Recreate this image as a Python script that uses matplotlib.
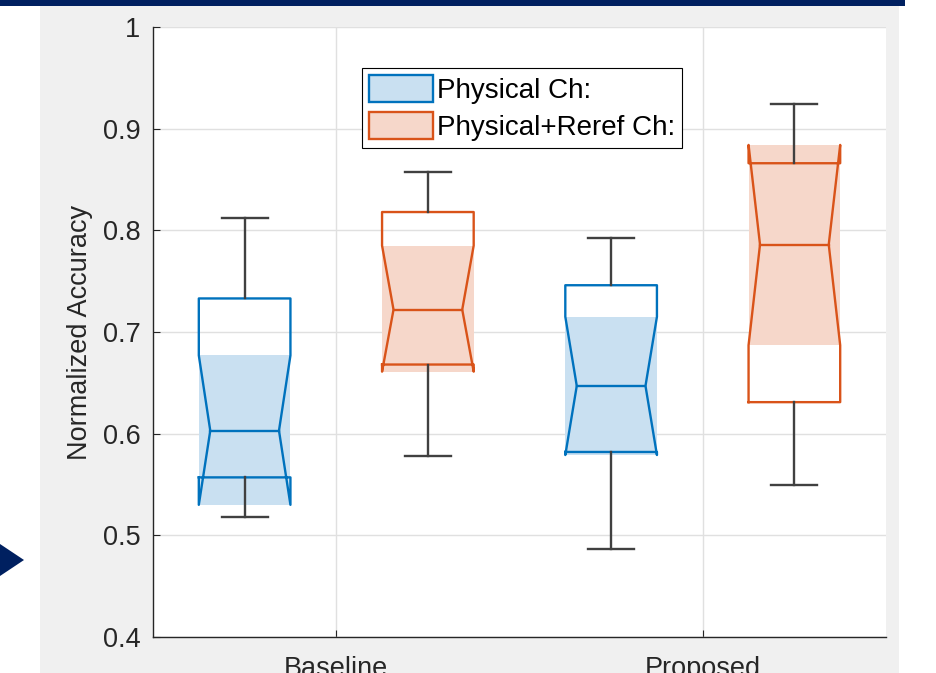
import numpy as np
import matplotlib.pyplot as plt
from matplotlib.patches import Rectangle, Polygon, Patch

plt.rcParams['font.family'] = ['Liberation Sans', 'DejaVu Sans']

# data
categories = ['Baseline', 'Proposed']
series = ['Physical Ch:', 'Physical+Reref Ch:']
edge_colors = ['#0072BD', '#D95319']
fill_colors = ['#c9e0f1', '#f6d7ca']

# per series: [Baseline, Proposed]
whisk_lo = [[0.518, 0.487], [0.578, 0.550]]
q1 = [[0.557, 0.582], [0.668, 0.631]]
median = [[0.603, 0.647], [0.722, 0.786]]
q3 = [[0.733, 0.746], [0.818, 0.866]]
whisk_hi = [[0.812, 0.792], [0.857, 0.924]]
notch_lo = [[0.530, 0.579], [0.661, 0.687]]
notch_hi = [[0.677, 0.715], [0.785, 0.884]]

yticks = [0.4, 0.5, 0.6, 0.7, 0.8, 0.9, 1.0]
ytick_labels = ['0.4', '0.5', '0.6', '0.7', '0.8', '0.9', '1']

W, H = 937, 673
fig = plt.figure(figsize=(W / 100, H / 100), dpi=100)
fig.patch.set_facecolor('white')


def fx(px):
    return px / W


def fy(py):
    return 1 - py / H


# slide decoration: grey panel, navy bar, navy arrow (behind the axes)
fig.patches.append(Rectangle((fx(40), 0), fx(899) - fx(40), fy(6), transform=fig.transFigure,
                             facecolor='#f0f0f0', edgecolor='none', zorder=-10))
fig.patches.append(Rectangle((0, fy(6)), fx(905), 6 / H, transform=fig.transFigure,
                             facecolor='#002060', edgecolor='none', zorder=-10))
fig.patches.append(Polygon([(0, fy(544)), (fx(24), fy(560)), (0, fy(576))], closed=True,
                           transform=fig.transFigure, facecolor='#002060', edgecolor='none', zorder=-10))

ax = fig.add_axes([fx(153), fy(637), fx(886) - fx(153), fy(27) - fy(637)])
ax.set_facecolor('white')

offsets = [-0.25, 0.25]
box_w = 0.25
cap_w = 0.125
inset = box_w / 8

for s in range(len(series)):
    for c in range(len(categories)):
        xc = c + 1 + offsets[s]
        left, right = xc - box_w / 2, xc + box_w / 2
        # shaded notch region
        ax.add_patch(Rectangle((left, notch_lo[s][c]), box_w, notch_hi[s][c] - notch_lo[s][c],
                               facecolor=fill_colors[s], edgecolor='none', zorder=2))
        # notched box outline (matlab style)
        xs = [left, left, left + inset, left, left, right, right, right - inset, right, right, left]
        ys = [q1[s][c], notch_lo[s][c], median[s][c], notch_hi[s][c], q3[s][c],
              q3[s][c], notch_hi[s][c], median[s][c], notch_lo[s][c], q1[s][c], q1[s][c]]
        ax.plot(xs, ys, color=edge_colors[s], lw=1.7, zorder=3)
        ax.plot([left + inset, right - inset], [median[s][c]] * 2, color=edge_colors[s], lw=1.7, zorder=3)
        # whiskers
        ax.plot([xc, xc], [q3[s][c], whisk_hi[s][c]], color='#404040', lw=1.7, zorder=4)
        ax.plot([xc, xc], [q1[s][c], whisk_lo[s][c]], color='#404040', lw=1.7, zorder=4)
        ax.plot([xc - cap_w / 2, xc + cap_w / 2], [whisk_hi[s][c]] * 2, color='#404040', lw=1.7, zorder=4)
        ax.plot([xc - cap_w / 2, xc + cap_w / 2], [whisk_lo[s][c]] * 2, color='#404040', lw=1.7, zorder=4)

ax.set_xlim(0.5, 2.5)
ax.set_ylim(0.4, 1.0)
ax.set_xticks(np.arange(1, len(categories) + 1))
ax.set_xticklabels(categories)
ax.set_yticks(yticks)
ax.set_yticklabels(ytick_labels)
ax.grid(True, color='#e0e0e0', lw=1.0, zorder=0)
ax.set_axisbelow(True)
for side in ['top', 'right']:
    ax.spines[side].set_visible(False)
for side in ['left', 'bottom']:
    ax.spines[side].set_color('#262626')
    ax.spines[side].set_linewidth(1.0)
ax.tick_params(axis='both', direction='in', length=5, color='#262626', labelcolor='#262626',
               labelsize=19.5)
ax.tick_params(axis='y', pad=9)
ax.tick_params(axis='x', pad=14)

fig.text(fx(80), fy(332), 'Normalized Accuracy', rotation=90, ha='center', va='center',
         fontsize=19.5, color='#262626')

handles = [Patch(facecolor=fill_colors[i], edgecolor=edge_colors[i], lw=1.7) for i in range(len(series))]
leg = fig.legend(handles, series, loc='upper left', bbox_to_anchor=(fx(362), fy(68)),
                 fontsize=20, frameon=True, fancybox=False, framealpha=1, facecolor='white',
                 borderaxespad=0, borderpad=0.25,
                 handlelength=2.3, handleheight=1.1, handletextpad=0.15, labelspacing=0.3)
leg.get_frame().set_edgecolor('black')
leg.get_frame().set_linewidth(0.8)

fig.savefig('out.png', dpi=100)
